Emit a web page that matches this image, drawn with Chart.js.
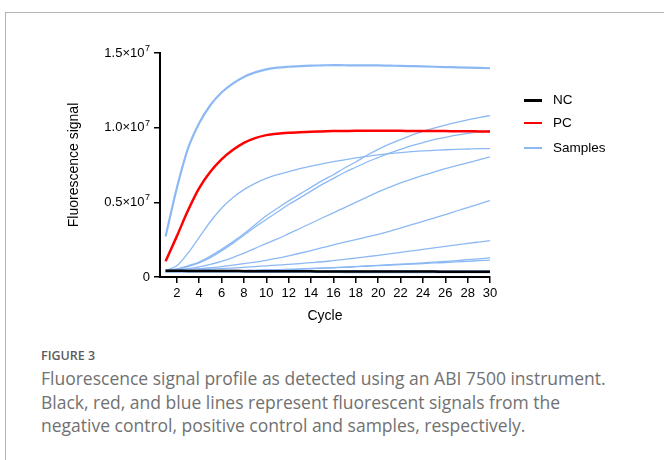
<!DOCTYPE html>
<html><head><meta charset="utf-8">
<script src="https://cdn.jsdelivr.net/npm/chart.js@4/dist/chart.umd.min.js"></script>
<style>
html,body{margin:0;padding:0;background:#fff;width:664px;height:460px;overflow:hidden;}
#frame{position:absolute;left:5px;top:12px;width:700px;height:500px;border-left:1.5px solid #b3b3b3;border-top:1.5px solid #b3b3b3;}
#chart{position:absolute;left:0;top:0;}
#legend{position:absolute;left:524px;top:0;font:13.5px "Liberation Sans",Arial,sans-serif;color:#000;}
.item{position:absolute;left:0;height:16px;white-space:nowrap;}
.swatch{position:absolute;left:0;width:18px;}
.lab{position:absolute;left:29px;top:0;line-height:16px;}
#caption{position:absolute;left:41px;top:348px;font-family:"Open Sans",Lato,sans-serif;color:#717171;}
#fig{font-size:12.5px;font-weight:600;color:#5c5c5c;line-height:16px;}
#text{margin-top:3px;font-size:17.5px;line-height:23.5px;white-space:nowrap;}
</style></head>
<body>
<div id="frame"></div>
<canvas id="chart" width="664" height="325"></canvas>
<div id="legend"></div>
<div id="caption"><div id="fig">FIGURE 3</div><div id="text">Fluorescence signal profile as detected using an ABI 7500 instrument.<br>Black, red, and blue lines represent fluorescent signals from the<br>negative control, positive control and samples, respectively.</div></div>
<script>
// values in units of 10^6
const valueUnit = 1e6;
const cycles = [1,2,3,4,5,6,7,8,9,10,11,12,13,14,15,16,17,18,19,20,21,22,23,24,25,26,27,28,29,30];
const ncValues = [0.42,0.42,0.41,0.41,0.40,0.40,0.40,0.39,0.39,0.39,0.38,0.38,0.38,0.38,0.37,0.37,0.37,0.37,0.37,0.36,0.36,0.36,0.36,0.36,0.36,0.35,0.35,0.35,0.35,0.35];
const pcValues = [1.05,2.72,4.45,5.95,7.05,7.88,8.5,8.98,9.3,9.5,9.6,9.66,9.7,9.73,9.75,9.77,9.78,9.79,9.79,9.79,9.79,9.79,9.78,9.78,9.77,9.77,9.76,9.76,9.75,9.74];
const sampleTop = [2.72,5.95,8.6,10.3,11.5,12.35,12.95,13.4,13.7,13.9,14.02,14.08,14.12,14.15,14.17,14.19,14.18,14.17,14.17,14.17,14.15,14.14,14.12,14.1,14.08,14.06,14.04,14.02,14.0,13.98];
const sampleA = [0.45,0.55,0.75,1.0,1.4,1.85,2.35,2.9,3.5,4.1,4.6,5.1,5.55,6.0,6.45,6.85,7.3,7.7,8.15,8.55,8.9,9.2,9.5,9.75,9.97,10.17,10.35,10.52,10.67,10.81];
const sampleB = [0.45,0.52,0.7,0.95,1.3,1.75,2.25,2.8,3.35,3.85,4.35,4.85,5.3,5.75,6.2,6.6,7.0,7.35,7.7,8.0,8.3,8.55,8.8,9.0,9.2,9.35,9.5,9.62,9.72,9.8];
const sampleC = [0.45,0.75,1.6,2.65,3.7,4.6,5.3,5.85,6.27,6.6,6.85,7.06,7.25,7.42,7.58,7.72,7.85,7.97,8.08,8.18,8.26,8.33,8.39,8.44,8.48,8.52,8.55,8.57,8.59,8.6];
const sampleD = [0.42,0.48,0.56,0.68,0.85,1.05,1.3,1.6,1.92,2.25,2.55,2.9,3.25,3.6,3.95,4.3,4.65,5.0,5.35,5.7,6.0,6.3,6.55,6.8,7.02,7.25,7.45,7.65,7.85,8.05];
const sampleE = [0.4,0.45,0.5,0.56,0.62,0.7,0.79,0.89,1.0,1.12,1.26,1.42,1.59,1.77,1.96,2.15,2.33,2.5,2.68,2.86,3.06,3.28,3.5,3.72,3.95,4.18,4.42,4.65,4.88,5.12];
const sampleF = [0.4,0.42,0.45,0.48,0.52,0.56,0.6,0.65,0.7,0.75,0.8,0.85,0.9,0.96,1.02,1.1,1.18,1.27,1.36,1.45,1.55,1.65,1.75,1.85,1.95,2.05,2.15,2.25,2.34,2.43];
const sampleG = [0.35,0.36,0.37,0.38,0.39,0.4,0.42,0.43,0.45,0.47,0.49,0.51,0.54,0.57,0.6,0.63,0.66,0.7,0.74,0.78,0.82,0.86,0.9,0.95,1.0,1.05,1.1,1.16,1.22,1.28];
const sampleH = [0.35,0.36,0.37,0.38,0.39,0.4,0.42,0.43,0.45,0.47,0.49,0.51,0.53,0.56,0.59,0.62,0.65,0.69,0.72,0.76,0.79,0.83,0.86,0.9,0.94,0.97,1.01,1.05,1.09,1.13];
const sampleI = [0.45,0.45,0.45,0.44,0.44,0.44,0.44,0.44,0.43,0.43,0.43,0.43,0.43,0.43,0.43,0.42,0.42,0.42,0.42,0.42,0.42,0.42,0.42,0.42,0.42,0.42,0.42,0.42,0.42,0.42];
const sampleJ = [0.33,0.33,0.33,0.32,0.32,0.32,0.32,0.32,0.31,0.31,0.31,0.31,0.31,0.31,0.31,0.31,0.3,0.3,0.3,0.3,0.3,0.3,0.3,0.3,0.3,0.3,0.3,0.3,0.3,0.3];
const sampleSeries = [sampleTop, sampleA, sampleB, sampleC, sampleD, sampleE, sampleF, sampleG, sampleH, sampleI, sampleJ];
const xTickValues = [2,4,6,8,10,12,14,16,18,20,22,24,26,28,30];
const yTickValues = [0, 5e6, 1e7, 1.5e7];
const yTickBases = ['0', '0.5×10', '1.0×10', '1.5×10'];
const yTickExps = ['', '7', '7', '7'];
const legendLabels = ['NC', 'PC', 'Samples'];

const NC_COLOR = '#000000', PC_COLOR = '#ff0000', S_COLOR = '#8cb9f4';
const FONT = '"Liberation Sans", Arial, sans-serif';
const toPoints = arr => arr.map((v, i) => ({x: cycles[i], y: v * valueUnit}));

const datasets = [
  {label: legendLabels[0], data: toPoints(ncValues), borderColor: NC_COLOR, backgroundColor: NC_COLOR, borderWidth: 2.5},
  {label: legendLabels[1], data: toPoints(pcValues), borderColor: PC_COLOR, backgroundColor: PC_COLOR, borderWidth: 2.5}
];
sampleSeries.forEach((s, i) => datasets.push({
  label: legendLabels[2], data: toPoints(s), borderColor: S_COLOR, backgroundColor: S_COLOR,
  borderWidth: i === 0 ? 2.2 : 1.3
}));

Chart.defaults.font.family = FONT;
Chart.defaults.color = '#000';

const axisGrid = {drawOnChartArea: false, drawTicks: true, tickLength: 6, color: '#000', lineWidth: 1.5};
const axisBorder = {display: true, color: '#000', width: 2};

// y tick labels with a real superscript exponent
const supLabels = {
  id: 'supLabels',
  afterDraw(chart) {
    const s = chart.scales.y, ctx = chart.ctx;
    const xr = s.right - 6 - 4;
    ctx.save();
    ctx.fillStyle = '#000';
    ctx.textBaseline = 'middle';
    yTickValues.forEach((v, i) => {
      const y = s.getPixelForValue(v);
      const exp = yTickExps[i];
      ctx.font = '9px ' + FONT;
      const we = exp ? ctx.measureText(exp).width + 0.5 : 0;
      ctx.font = '13px ' + FONT;
      ctx.textAlign = 'right';
      ctx.fillText(yTickBases[i], xr - we, y);
      if (exp) {
        ctx.font = '9px ' + FONT;
        ctx.textAlign = 'left';
        ctx.fillText(exp, xr - we + 0.5, y - 4.5);
      }
    });
    ctx.restore();
  }
};

new Chart(document.getElementById('chart'), {
  type: 'line',
  data: {datasets},
  plugins: [supLabels],
  options: {
    responsive: false, animation: false, devicePixelRatio: 1,
    layout: {padding: {top: 53, right: 174, bottom: 0, left: 0}},
    elements: {point: {radius: 0}, line: {cubicInterpolationMode: 'monotone', fill: false}},
    plugins: {legend: {display: false}, tooltip: {enabled: false}},
    scales: {
      x: {
        type: 'linear', min: 0.5, max: 30,
        afterBuildTicks: s => { s.ticks = xTickValues.map(v => ({value: v})); },
        afterFit: s => { s.height = 48; },
        ticks: {callback: v => String(v), font: {size: 13}, color: '#000', padding: 3, maxRotation: 0, autoSkip: false},
        grid: axisGrid, border: axisBorder,
        title: {display: true, text: 'Cycle', font: {size: 14}, color: '#000', padding: {top: 0, bottom: 0}}
      },
      y: {
        type: 'linear', min: 0, max: 1.5e7,
        afterBuildTicks: s => { s.ticks = yTickValues.map(v => ({value: v})); },
        afterFit: s => { s.width = 160; },
        ticks: {display: false},
        grid: axisGrid, border: axisBorder,
        title: {display: true, text: 'Fluorescence signal', font: {size: 14}, color: '#000', padding: {top: 66, bottom: 0}}
      }
    }
  }
});

// HTML legend built from the datasets (first dataset of each label)
const legendEl = document.getElementById('legend');
const legendTops = [92, 115, 140];
legendLabels.forEach((lab, i) => {
  const ds = datasets.find(d => d.label === lab);
  const item = document.createElement('div');
  item.className = 'item';
  item.style.top = legendTops[i] + 'px';
  const sw = document.createElement('div');
  sw.className = 'swatch';
  const h = lab === 'NC' ? 3 : 2;
  sw.style.height = h + 'px';
  sw.style.top = (8 - h / 2) + 'px';
  sw.style.background = ds.borderColor;
  const t = document.createElement('div');
  t.className = 'lab';
  t.textContent = lab;
  item.appendChild(sw); item.appendChild(t);
  legendEl.appendChild(item);
});
</script>
</body></html>
